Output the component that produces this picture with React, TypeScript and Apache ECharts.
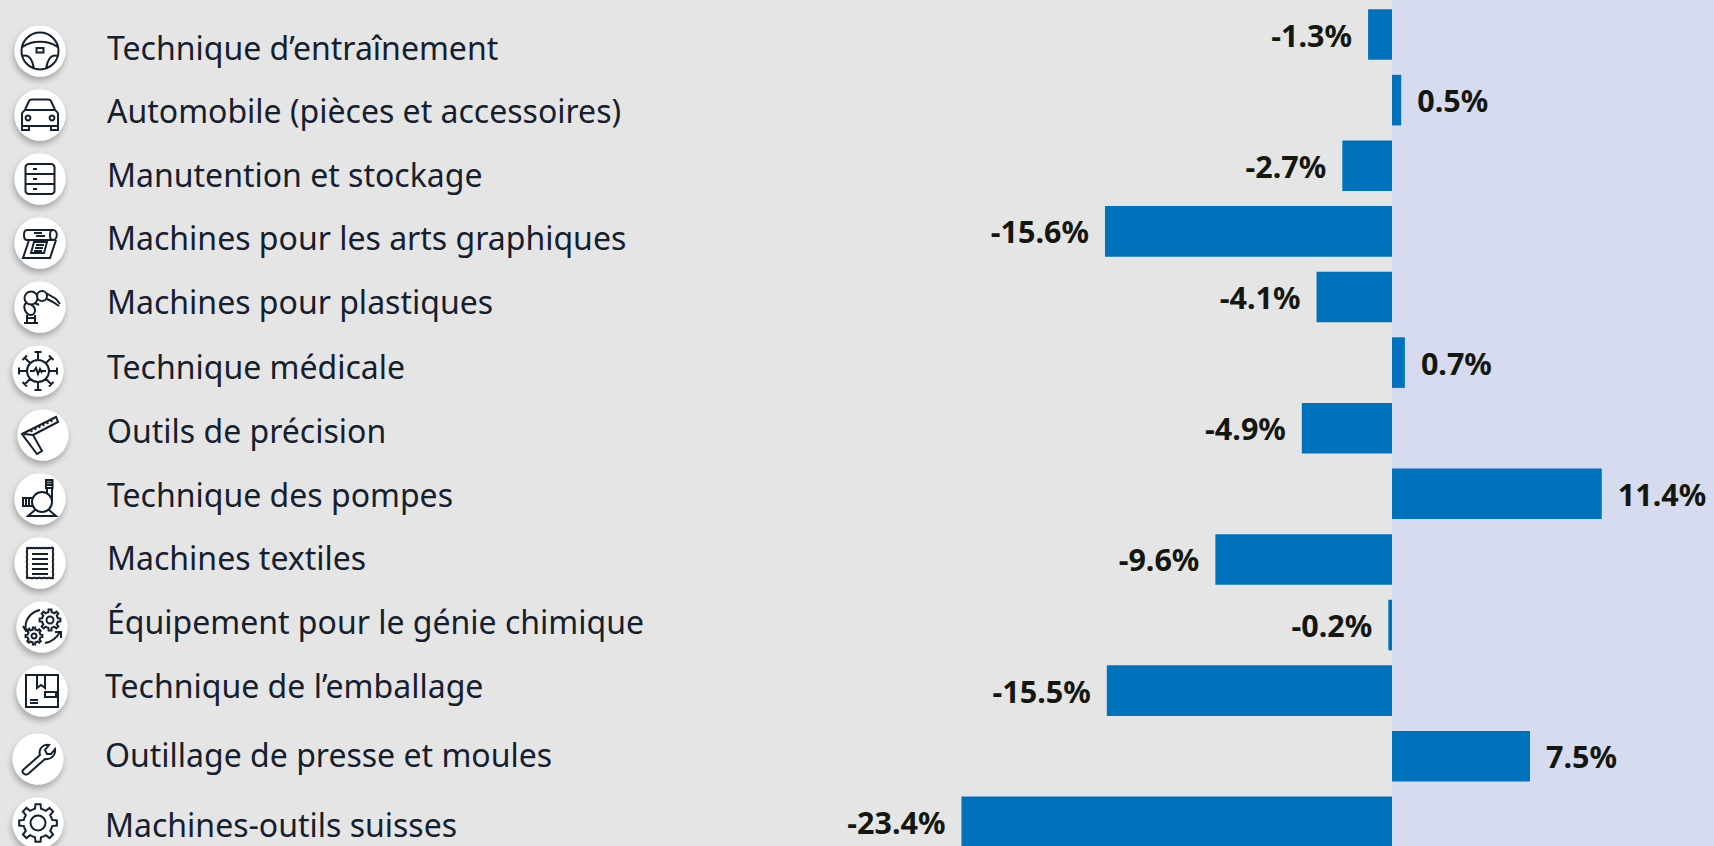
import React, { useEffect, useRef } from "react";
import * as echarts from "echarts";

const categories = [
  "Technique d’entraînement",
  "Automobile (pièces et accessoires)",
  "Manutention et stockage",
  "Machines pour les arts graphiques",
  "Machines pour plastiques",
  "Technique médicale",
  "Outils de précision",
  "Technique des pompes",
  "Machines textiles",
  "Équipement pour le génie chimique",
  "Technique de l’emballage",
  "Outillage de presse et moules",
  "Machines-outils suisses",
];
const values = [-1.3, 0.5, -2.7, -15.6, -4.1, 0.7, -4.9, 11.4, -9.6, -0.2, -15.5, 7.5, -23.4];

// layout of the hand-placed category column (not data marks)
const labelX = [107, 107, 107, 107, 107, 107, 107, 107, 107, 107, 105, 105, 105];
const labelY = [47, 110, 174, 237, 301, 366, 430, 494, 557, 621, 685, 754, 824];
const iconX = [40, 40, 40, 40, 40, 38, 43, 40, 40, 42, 42, 38, 38];
const iconY = [51, 115, 179, 243, 307, 371, 435, 499, 563, 627, 691, 759, 823];

const circ = (x: number, y: number, r: number) =>
  `M${x - r} ${y}A${r} ${r} 0 1 1 ${x + r} ${y}A${r} ${r} 0 1 1 ${x - r} ${y}Z`;

const gear = (cx: number, cy: number, R: number, r: number, n: number) => {
  let d = "";
  const step = (Math.PI * 2) / n;
  for (let i = 0; i < n; i++) {
    const a = i * step;
    const pts = [
      [r, a - step * 0.5],
      [r, a - step * 0.27],
      [R, a - step * 0.17],
      [R, a + step * 0.17],
      [r, a + step * 0.27],
    ];
    pts.forEach(([q, t], j) => {
      const px = (cx + q * Math.cos(t)).toFixed(2);
      const py = (cy + q * Math.sin(t)).toFixed(2);
      d += `${i === 0 && j === 0 ? "M" : "L"}${px} ${py}`;
    });
  }
  return d + "Z";
};

const iconPaths = [
  // steering wheel
  circ(0, 0, 18.5) +
    "M-17.5 -4C-8 -11 8 -11 17.5 -4" +
    "M-3.5 -3H3.5V1.5H-3.5Z" +
    "M-17.5 5C-11 3 -8 8 -6 17.5M17.5 5C11 3 8 8 6 17.5",
  // car
  "M-18 -1C-18 -3 -16 -4 -15 -5L-11 -14C-10.5 -15 -9.5 -15.5 -8 -15.5H8C9.5 -15.5 10.5 -15 11 -14L15 -5C16 -4 18 -3 18 -1V11H-18Z" +
    "M-15 -5H15M-18 11V15H-11V11M18 11V15H11V11" +
    circ(-12, 3, 2.4) + circ(12, 3, 2.4),
  // shelves
  "M-11 -15H11C13 -15 14.5 -13.5 14.5 -12V12C14.5 13.5 13 15 11 15H-11C-13 15 -14.5 13.5 -14.5 12V-12C-14.5 -13.5 -13 -15 -11 -15Z" +
    "M-14.5 -5H14.5M-14.5 5H14.5M-7 -10H-3M-7 0H-3M-7 10H-3",
  // printing
  "M-13 -13H13C18 -13 18 -3 13 -3H-13C-17 -3 -17 -13 -13 -13ZM13 -13C9 -13 9 -3 13 -3" +
    "M-6 -10H2M-4 -7H5M-11 -3L-17 15H10L16 -3M-6 -1L-9 10H4L7 -1ZM-4 2H4M-5 5H3M-6 8H2",
  // robot arm
  circ(-9, -9, 6.5) + circ(2, -11, 5) + "M-14 -4C-18 0 -14 8 -9 8C-6 8 -5 5 -5 3C-5 0 -8 -2 -10 -3" +
    "M-5 -4L-1 -2M6 -14L16 -8L20 -3M7 -8L13 -5M-13 8V16M-5 8V16M-16 16H-2M-13 11H-5M13 -5L19 -1",
  // medical virus
  circ(0, 0, 11) + "M-8 0H-4L-2 -3L0 3L2 -2L3.5 1L4.5 0H8" +
    "M0 -11V-19M-3.5 -19H3.5M0 11V19M-3.5 19H3.5M-11 0H-19M-19 -3.5V3.5M11 0H19M19 -3.5V3.5" +
    "M-8 -8L-13.5 -13.5M-15.5 -11L-11 -15.5M8 -8L13.5 -13.5M15.5 -11L11 -15.5M-8 8L-13.5 13.5M-15.5 11L-11 15.5M8 8L13.5 13.5M15.5 11L11 15.5",
  // square
  "M-21 -1L13 -18L15 -13L-10 0L-1 16L-6 19L-21 -1ZM-19 -1L-10 0M8 -15L9 -13M4 -13L5 -11M0 -11L1 -9M-4 -9L-3 -7M-8 -7L-7 -5M-12 -5L-11 -3",
  // pump
  circ(2, 3, 10) + "M6 -19H12.5V-11H6ZM6 -16.5H12.5M6 -14H12.5M7 -11V-6M12 -11V3" +
    "M-8 -1H-17V7H-8M-14 -1V7M-11 -1V7M-5 11L-12 17H16L9 11",
  // textile
  "M-13 -15C-12 -16 -11 -14 -10 -15C-9 -16 -8 -14 -7 -15C-6 -16 -5 -14 -4 -15C-3 -16 -2 -14 -1 -15C0 -16 1 -14 2 -15C3 -16 4 -14 5 -15C6 -16 7 -14 8 -15C9 -16 10 -14 11 -15C12 -16 13 -15 13 -15C14 -13 12 -12 13 -10C14 -8 12 -7 13 -5C14 -3 12 -2 13 0C14 2 12 3 13 5C14 7 12 8 13 10C14 12 12 13 13 15C11 16 10 14 8 15C6 16 5 14 3 15C1 16 0 14 -2 15C-4 16 -5 14 -7 15C-9 16 -10 14 -13 15C-14 13 -12 12 -13 10C-14 8 -12 7 -13 5C-14 3 -12 2 -13 0C-14 -2 -12 -3 -13 -5C-14 -7 -12 -8 -13 -10C-14 -12 -12 -13 -13 -15Z" +
    "M-8 -9H8M-8 -4H8M-8 1H8M-8 6H8M-8 11H8",
  // chemical gears
  gear(8, -7, 10.5, 8, 8) + circ(8, -7, 3.5) + gear(-8, 9, 8.5, 6.5, 8) + circ(-8, 9, 2.5) +
    "M-16 3C-18 -6 -12 -15 -2 -17M-19 -1L-16 4L-12 1M3 16C9 15 14 12 18 5M13 5H19V11",
  // box
  "M-16 -16H16V16H-16ZM-5 -16V-3L-1 -6L3 -3V-16M3 1H14V6H3ZM-12 9H-4M-12 12H-4",
  // wrench
  "M-15 11L2 -4C0 -10 5 -15 11 -14L7 -9L9 -5L13 -5L17 -10C18 -4 13 1 7 0L-10 15C-13 17 -17 13 -15 11Z",
  // gear
  gear(0, 0, 19, 14.5, 8) + circ(0, 0, 7.5),
];

iconPaths.forEach((d, i) => {
  echarts.graphic.registerShape(`icon${i}`, echarts.graphic.extendPath(d, {}));
});

const GREY = "#e5e5e5";
const PANEL = "#d6dbf0";
const BAR = "#0072bb";
const INK = "#15202e";
const VALUE_INK = "#14170f";
const PX_PER_UNIT = 18.4;
const ZERO_X = 1392;
const WIDTH = 1714;
const HEIGHT = 846;

export default function App() {
  const ref = useRef<HTMLDivElement>(null);
  useEffect(() => {
    document.body.style.margin = "0";
    const chart = echarts.init(ref.current!, undefined, { renderer: "svg" });
    const graphicEls: any[] = [
      {
        type: "rect",
        z: -1,
        shape: { x: ZERO_X, y: 0, width: WIDTH - ZERO_X, height: HEIGHT },
        style: { fill: PANEL },
      },
    ];
    categories.forEach((name, i) => {
      graphicEls.push({
        type: "circle",
        z: 10,
        shape: { cx: iconX[i], cy: iconY[i], r: 25.5 },
        style: {
          fill: "#ffffff",
          shadowBlur: 6,
          shadowOffsetX: -1,
          shadowOffsetY: 4,
          shadowColor: "rgba(0,0,0,0.28)",
        },
      });
      graphicEls.push({
        type: `icon${i}`,
        z: 11,
        x: iconX[i],
        y: iconY[i],
        style: { fill: "none", stroke: "#14202e", lineWidth: 2 },
      });
      graphicEls.push({
        type: "text",
        z: 11,
        x: labelX[i],
        y: labelY[i],
        style: {
          text: name,
          fill: INK,
          font: "400 32px 'Noto Sans', sans-serif",
          textAlign: "left",
          textVerticalAlign: "middle",
        },
      });
    });
    chart.setOption({
      animation: false,
      backgroundColor: GREY,
      grid: { left: 0, top: 1.7, width: WIDTH, height: 853, containLabel: false, outerBoundsMode: "none" },
      xAxis: {
        type: "value",
        min: -ZERO_X / PX_PER_UNIT,
        max: (WIDTH - ZERO_X) / PX_PER_UNIT,
        show: false,
      },
      yAxis: { type: "category", inverse: true, data: categories, show: false },
      graphic: graphicEls,
      series: [
        {
          type: "bar",
          barWidth: 50.6,
          itemStyle: { color: BAR },
          silent: true,
          data: values.map((v) => ({
            value: v,
            label: { position: v < 0 ? "left" : "right" },
          })),
          label: {
            show: true,
            distance: 16,
            color: VALUE_INK,
            fontFamily: "'Noto Sans', sans-serif",
            fontWeight: 700,
            fontSize: 30.5,
            formatter: (p: any) => `${p.value.toFixed(1)}%`,
          },
        },
      ],
    });
    return () => chart.dispose();
  }, []);
  return <div ref={ref} style={{ width: WIDTH, height: HEIGHT }} />;
}
